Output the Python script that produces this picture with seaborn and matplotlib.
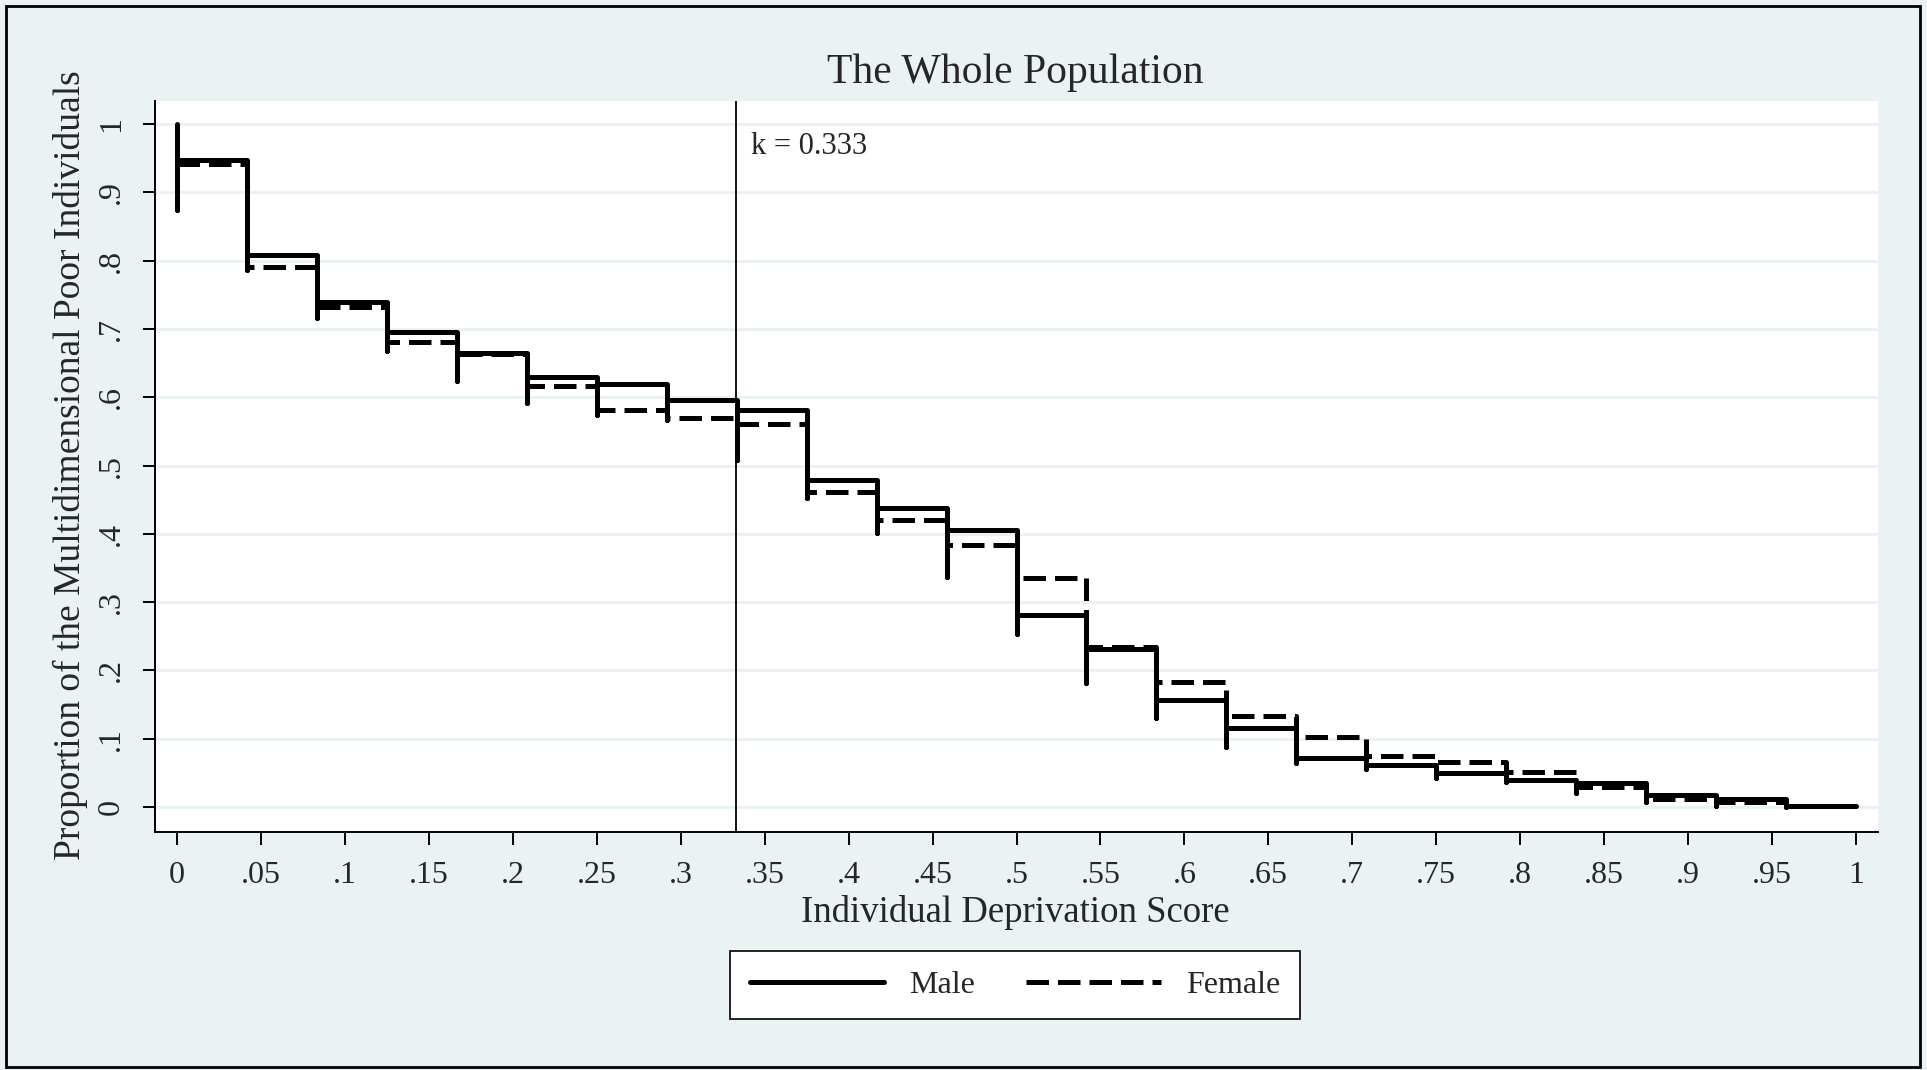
import numpy as np
import pandas as pd
import matplotlib
matplotlib.use("Agg")
import matplotlib.pyplot as plt
import seaborn as sns
from matplotlib.patches import Rectangle

# ---- data ----
n_steps = 24
male_levels = [0.948, 0.808, 0.739, 0.695, 0.665, 0.630, 0.619, 0.596, 0.582, 0.479,
               0.438, 0.406, 0.281, 0.231, 0.157, 0.116, 0.072, 0.061, 0.050, 0.039,
               0.035, 0.017, 0.012, 0.002]
female_levels = [0.941, 0.791, 0.733, 0.681, 0.664, 0.617, 0.582, 0.569, 0.561, 0.462,
                 0.420, 0.383, 0.336, 0.235, 0.183, 0.134, 0.102, 0.074, 0.066, 0.051,
                 0.029, 0.011, 0.007, 0.001]
# lowest point reached by the vertical segment at each break
break_lows = [0.874, 0.786, 0.716, 0.668, 0.624, 0.592, 0.574, 0.567, 0.508, 0.453,
              0.401, 0.337, 0.254, 0.181, 0.130, 0.088, 0.064, 0.056, 0.043, 0.036,
              0.020, 0.008, 0.001, 0.000]
start_value = 1.0
k_cut = 0.333
xtick_vals = [i * 0.05 for i in range(21)]
xtick_labels = ["0", ".05", ".1", ".15", ".2", ".25", ".3", ".35", ".4", ".45", ".5",
                ".55", ".6", ".65", ".7", ".75", ".8", ".85", ".9", ".95", "1"]
ytick_vals = [i * 0.1 for i in range(11)]
ytick_labels = ["0", ".1", ".2", ".3", ".4", ".5", ".6", ".7", ".8", ".9", "1"]

# ---- build step paths ----
rows = []
prev = start_value
for i in range(n_steps):
    x = i / n_steps
    rows.append((x, prev, "Male"))
    rows.append((x, break_lows[i], "Male"))
    rows.append((x, male_levels[i], "Male"))
    prev = male_levels[i]
rows.append((1.0, prev, "Male"))
prev = None
for i in range(n_steps):
    x = i / n_steps
    if prev is not None:
        rows.append((x, prev, "Female"))
    rows.append((x, female_levels[i], "Female"))
    prev = female_levels[i]
rows.append((1.0, prev, "Female"))
df = pd.DataFrame(rows, columns=["score", "prop", "sex"])

# ---- figure ----
sns.set_theme(style="white")
plt.rcParams["font.family"] = ["Liberation Serif", "DejaVu Serif"]
bg = "#EAF2F3"
W, H = 1927, 1070
fig = plt.figure(figsize=(W / 100, H / 100), dpi=100, facecolor=bg)
L, R, T, B = 155, 1878, 101, 832
ax = fig.add_axes([L / W, 1 - B / H, (R - L) / W, (B - T) / H])
ax.set_facecolor("white")

sns.lineplot(data=df, x="score", y="prop", style="sex", style_order=["Male", "Female"],
             dashes={"Male": "", "Female": (4.5, 1.8)}, color="black", lw=3.6,
             sort=False, estimator=None, ax=ax)

ax.set_xlim(-0.0131, 1.0131)
ax.set_ylim(-0.0366, 1.034)
ax.set_yticks(ytick_vals)
ax.set_yticklabels(ytick_labels, rotation=90, va="center", fontsize=23)
ax.set_xticks(xtick_vals)
ax.set_xticklabels(xtick_labels, fontsize=23)
ax.tick_params(axis="both", direction="out", length=9, width=1.4, color="black",
               bottom=True, left=True)
ax.tick_params(axis="x", pad=12)
ax.tick_params(axis="y", pad=12)
ax.grid(False)
for yv in ytick_vals:
    ax.axhline(yv, color=bg, lw=2.2, zorder=0)
for s in ["top", "right"]:
    ax.spines[s].set_visible(False)
for s in ["left", "bottom"]:
    ax.spines[s].set_color("black")
    ax.spines[s].set_linewidth(1.4)
ax.set_xlabel("")
ax.set_ylabel("")

ax.axvline(k_cut, color="black", lw=1.3, zorder=1)
ax.text(k_cut + 0.009, 0.967, "k = 0.333", fontsize=22, va="center", ha="left")

fig.text(1015 / W, 1 - 73 / H, "The Whole Population", fontsize=30, ha="center", va="center")
fig.text(1015 / W, 1 - 912 / H, "Individual Deprivation Score", fontsize=26.5, ha="center", va="center")
fig.text(70 / W, 1 - 465 / H, "Proportion of the Multidimensional Poor Individuals",
         fontsize=27, ha="center", va="center", rotation=90)

handles, labels = ax.get_legend_handles_labels()
leg = ax.legend(handles, labels, loc="center", bbox_to_anchor=(1015 / W, 1 - 985 / H),
                bbox_transform=fig.transFigure, ncol=2, fontsize=23, frameon=True,
                fancybox=False, edgecolor="black", framealpha=1, handlelength=4.2,
                handletextpad=0.8, columnspacing=1.6, borderpad=0.6)
leg.get_frame().set_linewidth(1.2)
for lh in leg.get_lines():
    lh.set_linewidth(3.6)

fig.patches.append(Rectangle((6 / W, 3 / H), (1920 - 6) / W, (1067 - 6) / H,
                             transform=fig.transFigure, fill=False, edgecolor="black",
                             lw=2.0))

fig.savefig("out.png", dpi=100, facecolor=bg)
